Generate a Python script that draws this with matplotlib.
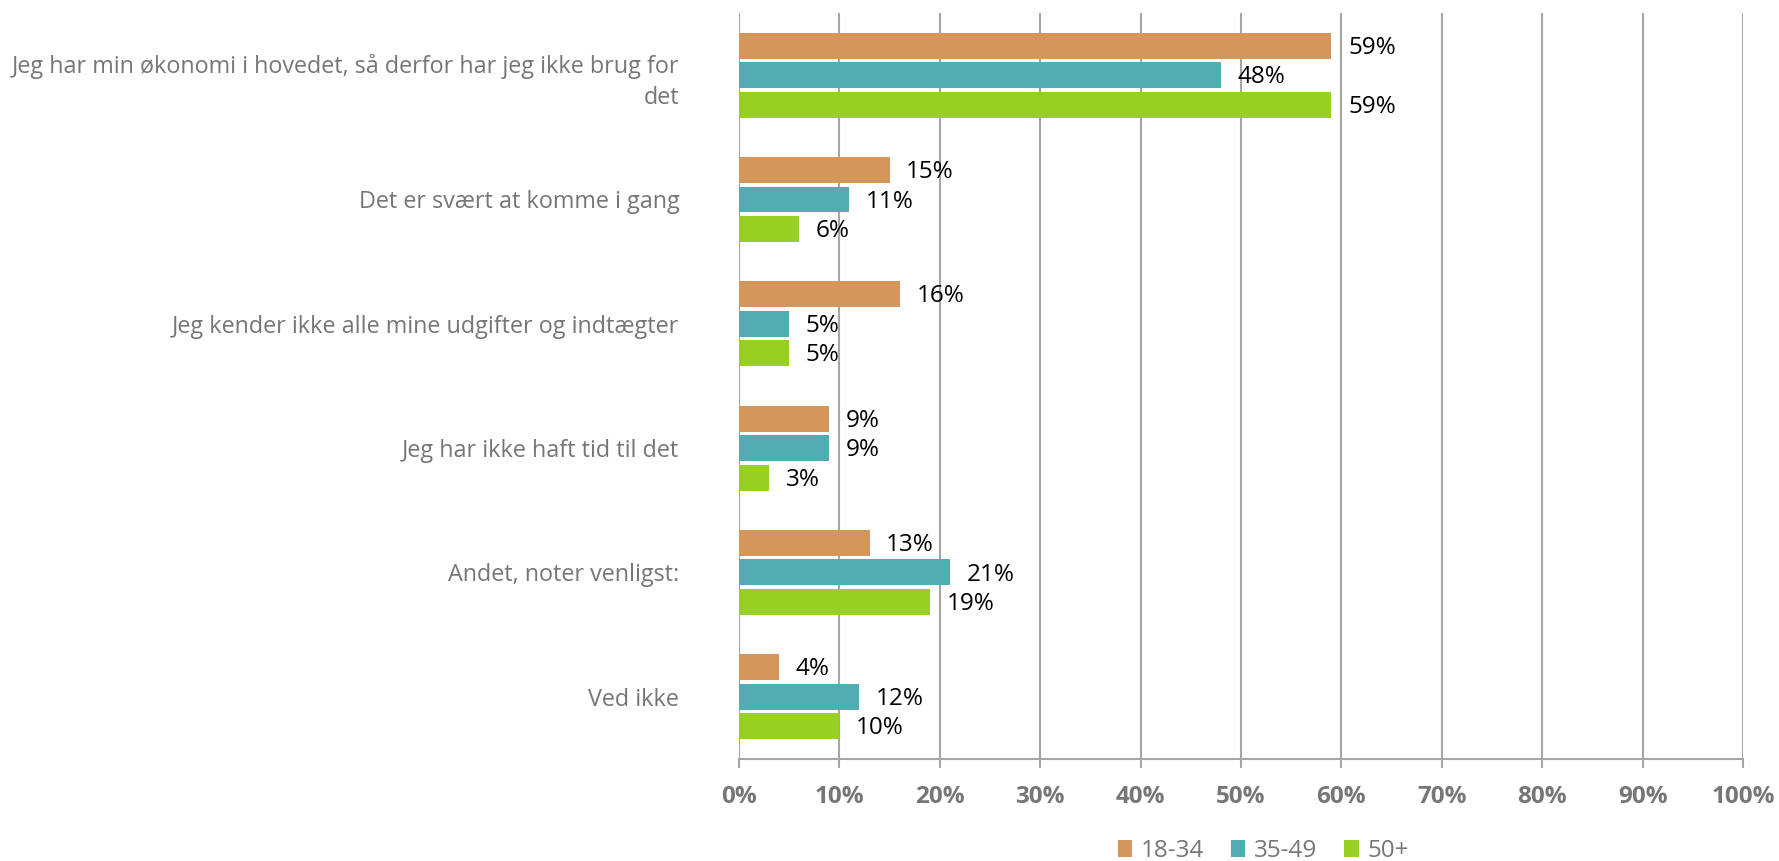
import matplotlib
matplotlib.use("Agg")
import matplotlib.pyplot as plt
import numpy as np
from matplotlib.patches import Patch

plt.rcParams['font.family'] = ['Open Sans', 'DejaVu Sans']

categories = [
    "Jeg har min økonomi i hovedet, så derfor har jeg ikke brug for\ndet",
    "Det er svært at komme i gang",
    "Jeg kender ikke alle mine udgifter og indtægter",
    "Jeg har ikke haft tid til det",
    "Andet, noter venligst:",
    "Ved ikke",
]
series_names = ["18-34", "35-49", "50+"]
v_18_34 = [59, 15, 16, 9, 13, 4]
v_35_49 = [48, 11, 5, 9, 21, 12]
v_50p = [59, 6, 5, 3, 19, 10]
series_values = [v_18_34, v_35_49, v_50p]
colors = ["#D4975B", "#52ADB0", "#97D023"]
xticks = [0, 10, 20, 30, 40, 50, 60, 70, 80, 90, 100]
xtick_labels = [f"{t}%" for t in xticks]

fig = plt.figure(figsize=(17.79, 8.61), dpi=100)
ax = fig.add_axes([0.4154, 0.1185, 0.5644, 0.8664])

y = np.arange(len(categories))
bar_h = 0.209
pitch = 0.237
offsets = [-pitch, 0, pitch]
for vals, col, off in zip(series_values, colors, offsets):
    ax.barh(y + off, vals, height=bar_h, color=col, zorder=3)
    for yy, v in zip(y + off, vals):
        ax.annotate(f"{v}%", xy=(v, yy), xytext=(12, -1.5), textcoords="offset points",
                    va="center", ha="left", fontsize=17.5, color="black", zorder=4)

ax.set_ylim(len(categories) - 0.5, -0.5)
ax.set_xlim(0, 100)
ax.set_yticks(y)
ax.set_yticklabels(categories, fontsize=16.8, color="#767676", ha="right",
                   multialignment="right", linespacing=1.4)
ax.set_xticks(xticks)
ax.set_xticklabels(xtick_labels, fontsize=17.5, fontweight="bold", color="#767676")

ax.tick_params(axis="y", length=0, pad=43)
ax.tick_params(axis="x", length=6.5, width=1.5, color="#A6A6A6", pad=12)

for s in ["top", "right", "left"]:
    ax.spines[s].set_visible(False)
ax.spines["bottom"].set_color("#A6A6A6")
ax.spines["bottom"].set_linewidth(1.5)
ax.xaxis.grid(True, color="#A6A6A6", linewidth=1.5, zorder=0)
ax.set_axisbelow(True)

handles = [Patch(facecolor=c, edgecolor="none") for c in colors]
fig.legend(handles, series_names, loc="center", bbox_to_anchor=(0.71, 0.012),
           ncol=3, frameon=False, fontsize=17.5, labelcolor="#767676",
           handlelength=0.6, handleheight=0.7, handletextpad=0.35, columnspacing=1.1)

fig.savefig("out.png", dpi=100)
